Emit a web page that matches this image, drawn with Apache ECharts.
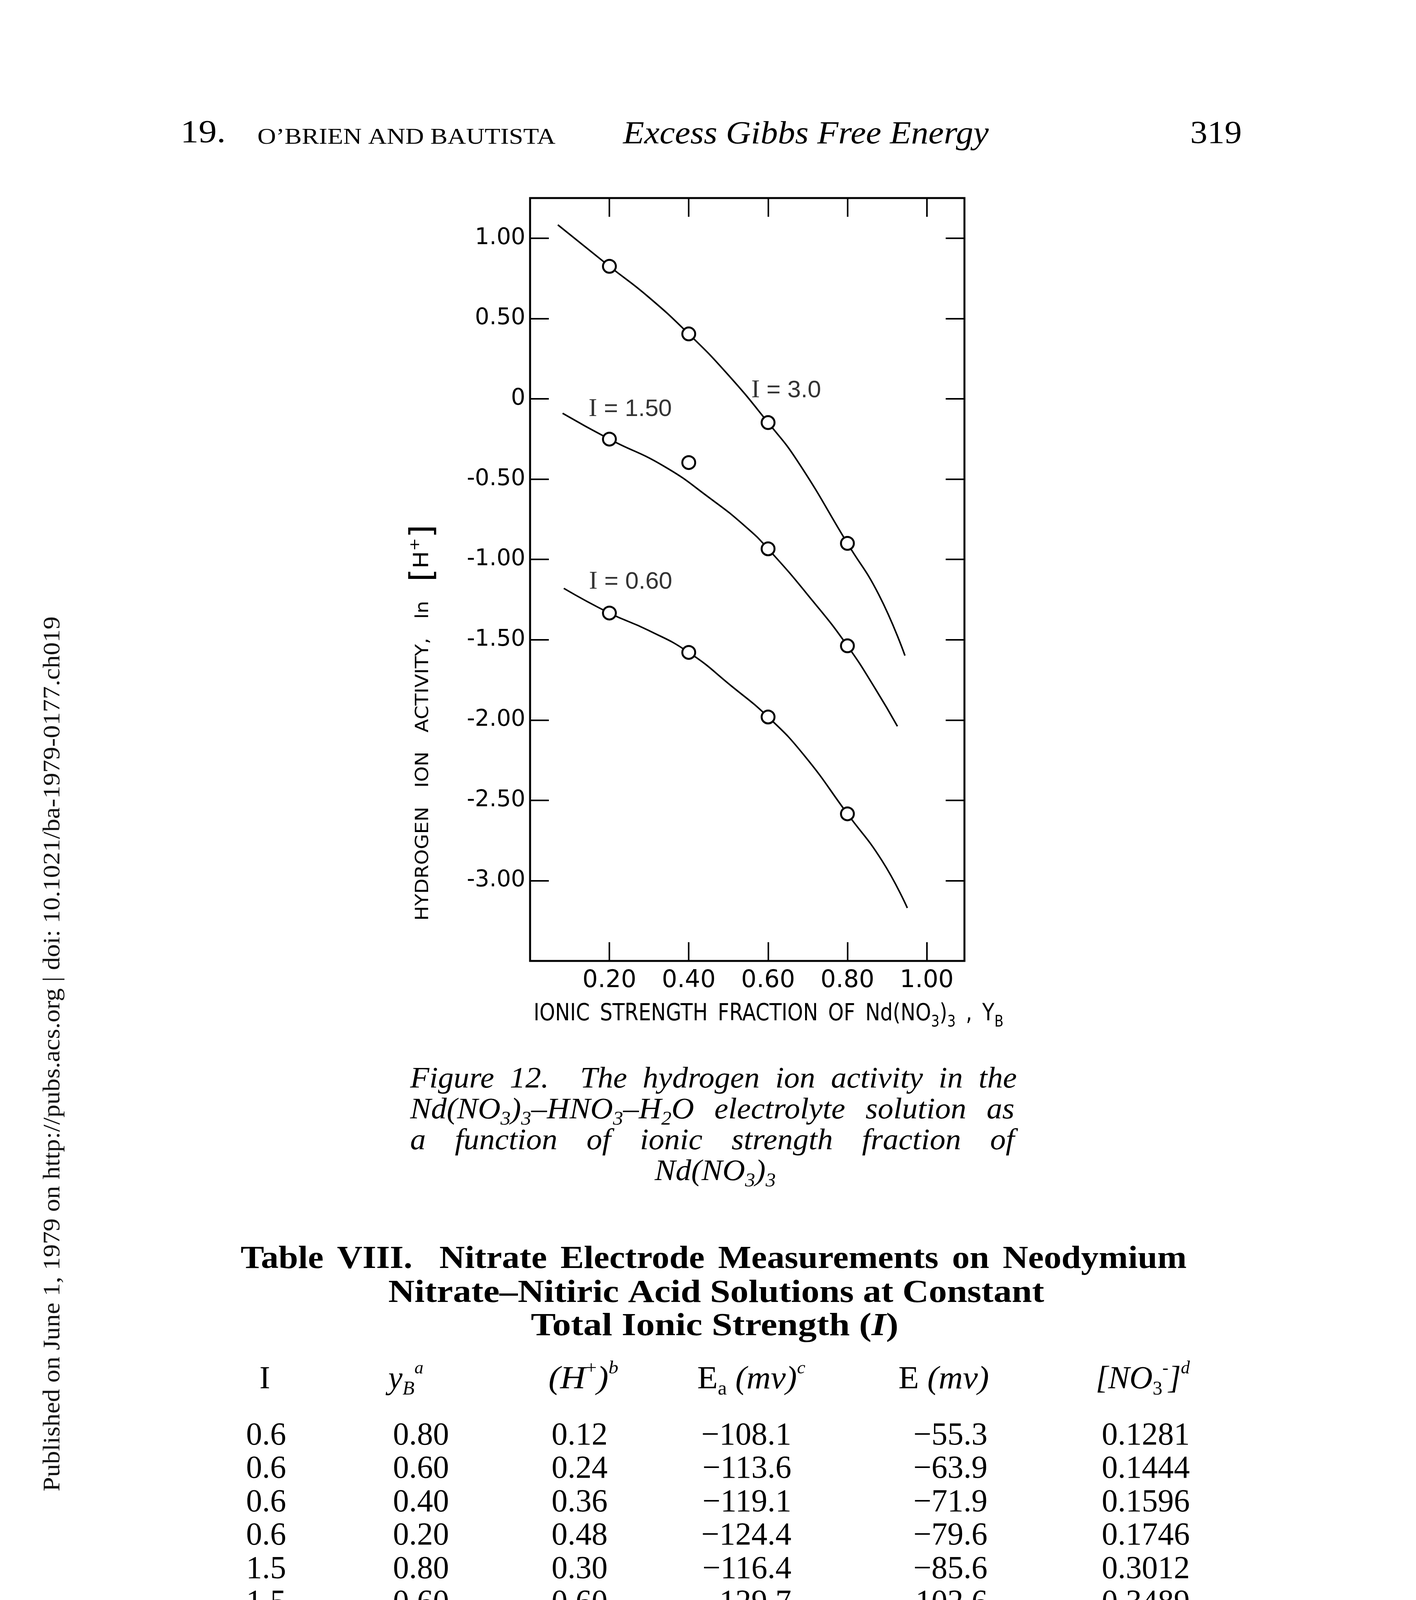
<!DOCTYPE html>
<html><head><meta charset="utf-8">
<script src="https://cdn.jsdelivr.net/npm/echarts@6/dist/echarts.min.js"></script>
<style>html,body{margin:0;padding:0;background:#fff}#c{width:3625px;height:5415px}</style>
</head><body><div id="c"></div>
<script>
// ---------------- data ----------------
const xTicks = [0.20, 0.40, 0.60, 0.80, 1.00];
const yTicks = [1.00, 0.50, 0, -0.50, -1.00, -1.50, -2.00, -2.50, -3.00];

const fractionYB = [0.20, 0.40, 0.60, 0.80];
const activityI30 = [0.825, 0.404, -0.148, -0.900];
const activityI15 = [-0.251, -0.397, -0.934, -1.538];
const activityI06 = [-1.334, -1.579, -1.981, -2.584];

const curveI30X = [0.070, 0.200, 0.298, 0.400, 0.497, 0.600, 0.674, 0.800, 0.879, 0.945];
const curveI30Y = [1.083, 0.825, 0.635, 0.404, 0.156, -0.148, -0.387, -0.900, -1.219, -1.599];
const curveI15X = [0.082, 0.200, 0.337, 0.454, 0.541, 0.600, 0.713, 0.800, 0.871, 0.926];
const curveI15Y = [-0.090, -0.251, -0.419, -0.620, -0.791, -0.934, -1.260, -1.538, -1.808, -2.039];
const curveI06X = [0.085, 0.200, 0.297, 0.400, 0.509, 0.600, 0.690, 0.800, 0.887, 0.951];
const curveI06Y = [-1.180, -1.334, -1.440, -1.579, -1.791, -1.981, -2.217, -2.584, -2.875, -3.170];

const curveLabels = ['I = 3.0', 'I = 1.50', 'I = 0.60'];
const curveLabelAt = [[0.557, 0.051], [0.147, -0.066], [0.148, -1.141]];

const tableI   = [0.6, 0.6, 0.6, 0.6, 1.5, 1.5, 1.5, 1.5, 3.0, 3.0, 3.0, 3.0];
const tableYB  = [0.80, 0.60, 0.40, 0.20, 0.80, 0.60, 0.40, 0.20, 0.80, 0.60, 0.40, 0.20];
const tableH   = [0.12, 0.24, 0.36, 0.48, 0.30, 0.60, 0.90, 1.20, 0.60, 1.20, 1.80, 2.40];
const tableEa  = [-108.1, -113.6, -119.1, -124.4, -116.4, -129.7, -142.3, -154.4, -129.7, -154.4, -176.7, -196.6];
const tableE   = [-55.3, -63.9, -71.9, -79.6, -85.6, -102.6, -119.0, -134.0, -124.8, -155.3, -181.2, -212.6];
const tableNO3 = [0.1281, 0.1444, 0.1596, 0.1746, 0.3012, 0.3489, 0.4031, 0.4518, 0.8278, 1.0352, 1.1910, 1.8674];

const footnotes = [
  ['a', 'Fraction of neodymium nitrate making up the total ionic strength.'],
  ['b', 'Hydrogen ion concentration of the aqueous phase.'],
  ['c', 'Calculated by Equation 33.'],
  ['d', 'Calculated by the Nernst Equation.']
];

// ---------------- text layout helpers ----------------
const SERIF = "'Liberation Serif'";
const SANS = "'DejaVu Sans'";
const INK = '#000';
const MID = 0.34;
const mctx = document.createElement('canvas').getContext('2d');
function fontStr(st, wt, sz, fam) { return st + ' ' + wt + ' ' + sz + 'px ' + fam; }
function measure(t, f) { mctx.font = f; return mctx.measureText(t).width; }

function textLine(tokens, o) {
  const fam = o.family || SERIF;
  const toks = [];
  tokens.forEach(tk0 => {
    const tk = typeof tk0 === 'string' ? {t: tk0} : tk0;
    tk.t.split(' ').forEach((p, i) => {
      if (i > 0) toks.push({gap: true});
      if (p) toks.push(Object.assign({}, tk, {t: p}));
    });
  });
  const bs = o.style || 'normal', bw = o.weight || 'normal';
  const spaceW = measure(' ', fontStr(bs, bw, o.size, fam)) * (o.spaceMul || 1);
  let wordsW = 0, nGaps = 0;
  toks.forEach(tk => {
    if (tk.gap) { nGaps++; return; }
    tk.fs = tk.size || o.size; tk.st = tk.style || bs; tk.wt = tk.weight || bw; tk.fam = tk.family || fam;
    tk.w = measure(tk.t, fontStr(tk.st, tk.wt, tk.fs, tk.fam));
    wordsW += tk.w;
  });
  let sx = o.sx || 1, gap = spaceW, start;
  const natural = wordsW + nGaps * spaceW;
  if (o.mode === 'justify') { gap = nGaps ? ((o.x1 - o.x0) / sx - wordsW) / nGaps : 0; start = o.x0; }
  else if (o.mode === 'fit') { sx = (o.x1 - o.x0) / natural; start = o.x0; }
  else if (o.mode === 'center') start = o.x - natural * sx / 2;
  else if (o.mode === 'right') start = o.x - natural * sx;
  else start = o.x;
  let cx = start; const els = [];
  toks.forEach(tk => {
    if (tk.gap) { cx += gap * sx; return; }
    els.push({
      type: 'text', silent: true, x: cx, y: o.y + (tk.dy || 0) - MID * tk.fs, scaleX: sx,
      style: { text: tk.t, fill: o.fill || INK, fontStyle: tk.st, fontWeight: tk.wt, fontSize: tk.fs, fontFamily: tk.fam,
               align: 'left', verticalAlign: 'middle', textAlign: 'left', textVerticalAlign: 'middle' }
    });
    cx += tk.w * sx;
  });
  return els;
}

const G = [];
// running head
G.push(...textLine(['19.'], {mode: 'fit', x0: 462, x1: 578, y: 370, size: 82}));
G.push(...textLine(['O’BRIEN AND BAUTISTA'], {mode: 'fit', x0: 659, x1: 1422, y: 372, size: 56}));
G.push(...textLine(['Excess Gibbs Free Energy'], {mode: 'fit', x0: 1595, x1: 2531, y: 373, size: 82, style: 'italic'}));
G.push(...textLine(['319'], {mode: 'fit', x0: 3047, x1: 3179, y: 372, size: 82}));

// side stamp (rotated)
G.push({type: 'group', x: 157, y: 3818, rotation: Math.PI / 2, children:
  textLine(['Published on June 1, 1979 on http://pubs.acs.org | doi: 10.1021/ba-1979-0177.ch019'],
    {mode: 'fit', x0: 0, x1: 2240, y: 0, size: 62, fill: '#111'})});

// y axis title (rotated)
G.push({type: 'group', x: 1100, y: 2357, rotation: Math.PI / 2, children:
  textLine(['HYDROGEN ION ACTIVITY, ln ', {t: '[', size: 80, dy: 12}, {t: 'H', size: 54},
            {t: '+', size: 36, dy: -24}, {t: ']', size: 80, dy: 12}],
    {mode: 'justify', x0: 0, x1: 1014, y: 0, size: 46, sx: 1.1, family: SANS})});

// x axis title
const sub3 = {t: '3', size: 40, dy: 14};
G.push(...textLine(['IONIC STRENGTH FRACTION OF Nd(NO', sub3, ')', sub3, ' , Y', {t: 'B', size: 40, dy: 14}],
  {mode: 'fit', x0: 1366, x1: 2569, y: 2617, size: 60, family: SANS, spaceMul: 1.6}));

// caption
const isub = t => ({t: t, size: 50, dy: 14});
const capO = {size: 77, style: 'italic', sx: 1.04};
G.push(...textLine(['Figure 12.  The hydrogen ion activity in the'], Object.assign({mode: 'justify', x0: 1050, x1: 2603, y: 2790}, capO)));
G.push(...textLine(['Nd(NO', isub('3'), ')', isub('3'), '–HNO', isub('3'), '–H', isub('2'), 'O electrolyte solution as'],
  Object.assign({mode: 'justify', x0: 1050, x1: 2597, y: 2869}, capO)));
G.push(...textLine(['a function of ionic strength fraction of'], Object.assign({mode: 'justify', x0: 1050, x1: 2597, y: 2948}, capO)));
G.push(...textLine(['Nd(NO', isub('3'), ')', isub('3')], Object.assign({mode: 'center', x: 1831, y: 3027}, capO)));

// table title
const ttl = {size: 82, weight: 'bold', sx: 1.1};
G.push(...textLine(['Table VIII.  Nitrate Electrode Measurements on Neodymium'], Object.assign({mode: 'justify', x0: 616, x1: 3038, y: 3253}, ttl)));
G.push(...textLine(['Nitrate–Nitiric Acid Solutions at Constant'], Object.assign({mode: 'fit', x0: 994, x1: 2673, y: 3340}, ttl)));
G.push(...textLine(['Total Ionic Strength (', {t: 'I', style: 'italic'}, ')'], Object.assign({mode: 'fit', x0: 1359, x1: 2300, y: 3425}, ttl)));

// table header
const HY = 3560, hs = 82;
const sup = (t, it) => ({t: t, size: 46, dy: -40, style: it ? 'italic' : 'normal'});
const sb = (t, it) => ({t: t, size: 50, dy: 14, style: it ? 'italic' : 'normal'});
G.push(...textLine(['I'], {mode: 'center', x: 678, y: HY, size: hs}));
G.push(...textLine([{t: 'y', style: 'italic'}, sb('B', true), sup('a', true)], {mode: 'left', x: 994, y: HY, size: hs}));
G.push(...textLine([{t: '(H', style: 'italic'}, sup('+'), {t: ')', style: 'italic'}, sup('b', true)], {mode: 'left', x: 1404, y: HY, size: hs, sx: 1.1}));
G.push(...textLine(['E', sb('a'), {t: ' (mv)', style: 'italic'}, sup('c', true)], {mode: 'left', x: 1785, y: HY, size: hs, sx: 1.05}));
G.push(...textLine(['E', {t: ' (mv)', style: 'italic'}], {mode: 'left', x: 2300, y: HY, size: hs, sx: 1.05}));
G.push(...textLine([{t: '[NO', style: 'italic'}, sb('3'), sup('-'), {t: ']', style: 'italic'}, sup('d', true)], {mode: 'left', x: 2805, y: HY, size: hs}));

// table body
const neg = v => (v < 0 ? '−' : '') + Math.abs(v).toFixed(1);
for (let r = 0; r < tableI.length; r++) {
  const y = 3704 + r * 85.6, o = {size: 82};
  G.push(...textLine([tableI[r].toFixed(1)], Object.assign({mode: 'left', x: 630, y: y}, o)));
  G.push(...textLine([tableYB[r].toFixed(2)], Object.assign({mode: 'left', x: 1006, y: y}, o)));
  G.push(...textLine([tableH[r].toFixed(2)], Object.assign({mode: 'left', x: 1412, y: y}, o)));
  G.push(...textLine([neg(tableEa[r])], Object.assign({mode: 'right', x: 2026, y: y}, o)));
  G.push(...textLine([neg(tableE[r])], Object.assign({mode: 'right', x: 2528, y: y}, o)));
  G.push(...textLine([tableNO3[r].toFixed(4)], Object.assign({mode: 'right', x: 3046, y: y}, o)));
}

// footnotes
const fnY = [4772, 4841, 4910, 4977];
const fnX1 = [2724, 2211, 1507, 1775];
footnotes.forEach((f, i) => {
  G.push(...textLine([{t: f[0], style: 'italic'}], {mode: 'left', x: 611, y: fnY[i] - 34, size: 44}));
  G.push(...textLine([f[1]], {mode: 'fit', x0: 657, x1: fnX1[i], y: fnY[i], size: 68}));
});

// ---------------- chart ----------------
const isTick = (v, arr) => arr.some(t => Math.abs(t - v) < 1e-9);
const tickStyle = {inside: true, length: 48, lineStyle: {color: '#000', width: 4}};
const noLine = {show: false, onZero: false};
const xCommon = {type: 'value', min: 0, max: 1.095, interval: 0.2, axisLine: noLine, axisTick: tickStyle, splitLine: {show: false}};
const yCommon = {type: 'value', min: -3.5, max: 1.25, interval: 0.5, axisLine: noLine, axisTick: tickStyle, splitLine: {show: false}};

const pair = (X, Y) => X.map((x, i) => [x, Y[i]]);
const lineS = data => ({type: 'line', data: data, smooth: 0.5, symbol: 'none', silent: true,
  lineStyle: {color: '#000', width: 4}, z: 2, animation: false});
const ptsS = vals => ({type: 'scatter', data: fractionYB.map((x, i) => [x, vals[i]]), symbol: 'circle', symbolSize: 33,
  itemStyle: {color: '#fff', borderColor: '#000', borderWidth: 5, opacity: 1}, z: 3, silent: true});

const chart = echarts.init(document.getElementById('c'), null, {renderer: 'canvas'});
chart.setOption({
  animation: false,
  backgroundColor: '#fff',
  grid: {left: 1357, top: 507, width: 1112, height: 1953, show: true, borderColor: '#000', borderWidth: 5,
         backgroundColor: 'transparent', containLabel: false, outerBoundsMode: 'none'},
  xAxis: [
    Object.assign({}, xCommon, {position: 'bottom',
      axisLabel: {formatter: v => isTick(v, xTicks) ? v.toFixed(2) : '', margin: 20, fontSize: 62, fontFamily: 'DejaVu Sans', color: '#000'}}),
    Object.assign({}, xCommon, {position: 'top', axisLabel: {show: false}})
  ],
  yAxis: [
    Object.assign({}, yCommon, {position: 'left',
      axisLabel: {formatter: v => isTick(v, yTicks) ? (v === 0 ? '0' : v.toFixed(2)) : '', margin: 12, fontSize: 58, fontFamily: 'DejaVu Sans', color: '#000'}}),
    Object.assign({}, yCommon, {position: 'right', axisLabel: {show: false}})
  ],
  series: [
    lineS(pair(curveI30X, curveI30Y)),
    lineS(pair(curveI15X, curveI15Y)),
    lineS(pair(curveI06X, curveI06Y)),
    ptsS(activityI30), ptsS(activityI15), ptsS(activityI06),
    {type: 'scatter', data: curveLabelAt.map((p, i) => [p[0], p[1], curveLabels[i]]), symbolSize: 1, silent: true,
     itemStyle: {color: 'rgba(0,0,0,0)'}, z: 4,
     label: {show: true, position: 'right', distance: 0, color: '#000', fontSize: 62, fontFamily: 'Liberation Sans',
             formatter: p => '{i|I}' + p.data[2].slice(1),
             rich: {i: {fontFamily: 'Liberation Serif', fontSize: 66, color: '#000'}}}}
  ],
  graphic: {elements: G}
});
</script></body></html>
